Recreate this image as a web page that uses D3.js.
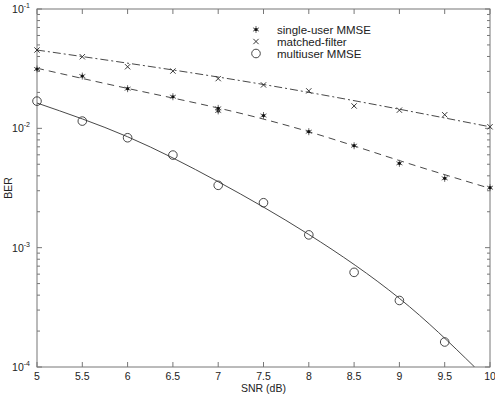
<!DOCTYPE html>
<html>
<head>
<meta charset="utf-8">
<script src="https://cdn.jsdelivr.net/npm/d3@7"></script>
<style>
body { margin: 0; background: #fff; }
text { font-family: "Liberation Sans", Arial, sans-serif; fill: #222; }
</style>
</head>
<body>
<script>
// data
var snr = [5, 5.5, 6, 6.5, 7, 7.5, 8, 8.5, 9, 9.5, 10];
var singleUser = [0.0314, 0.0274, 0.0215, 0.0184, 0.0140, 0.0128, 0.00937, 0.00715, 0.00509, 0.00381, 0.00318];
var singleUser2 = [[7, 0.0147]];
var matched = [0.0453, 0.0398, 0.0328, 0.0302, 0.0261, 0.0231, 0.0206, 0.0154, 0.0142, 0.0130, 0.0103];
var multiSnr = [5, 5.5, 6, 6.5, 7, 7.5, 8, 8.5, 9, 9.5];
var multiuser = [0.0169, 0.0115, 0.00834, 0.00597, 0.00333, 0.00238, 0.00128, 0.000621, 0.000361, 0.000162];

// theory curves
var singleLineX = [5, 6, 7, 8, 9, 10];
var singleLineY = [0.0319, 0.0216, 0.0148, 0.00937, 0.00537, 0.00314];
var matchedLineX = [5, 7.5, 10];
var matchedLineY = [0.0453, 0.0233, 0.0103];
var multiLineX = [5, 6, 7, 8, 9, 9.83];
var multiLineY = [0.0163, 0.0085, 0.00357, 0.00129, 0.000376, 0.0001];

var xTicks = [5, 5.5, 6, 6.5, 7, 7.5, 8, 8.5, 9, 9.5, 10];
var yTicks = [1e-1, 1e-2, 1e-3, 1e-4];
var legendLabels = ["single-user MMSE", "matched-filter", "multiuser MMSE"];

var width = 495, height = 394;
var margin = {left: 37, right: 5, top: 9, bottom: 27};

var svg = d3.select("body").append("svg")
    .attr("width", width)
    .attr("height", height);

var x = d3.scaleLinear().domain([5, 10]).range([margin.left, width - margin.right]);
var y = d3.scaleLog().domain([1e-4, 1e-1]).range([height - margin.bottom, margin.top]);

var axisColor = "#777";
var lineColor = "#333";

// clip so the solid curve stops at the frame
svg.append("clipPath").attr("id", "clip")
  .append("rect")
    .attr("x", x(5)).attr("y", y(1e-1))
    .attr("width", x(10) - x(5)).attr("height", y(1e-4) - y(1e-1));

// box
svg.append("rect")
    .attr("x", x(5)).attr("y", y(1e-1))
    .attr("width", x(10) - x(5)).attr("height", y(1e-4) - y(1e-1))
    .attr("fill", "none").attr("stroke", axisColor);

// x ticks top and bottom, inward
var g = svg.append("g");
xTicks.forEach(function(t) {
    g.append("line").attr("x1", x(t)).attr("x2", x(t))
        .attr("y1", y(1e-4)).attr("y2", y(1e-4) - 5).attr("stroke", axisColor);
    g.append("line").attr("x1", x(t)).attr("x2", x(t))
        .attr("y1", y(1e-1)).attr("y2", y(1e-1) + 5).attr("stroke", axisColor);
    g.append("text").attr("x", x(t)).attr("y", y(1e-4) + 13)
        .attr("text-anchor", "middle").attr("font-size", 10.5)
        .text(t);
});

// y major + minor ticks, both sides
var minor = [];
[1e-4, 1e-3, 1e-2].forEach(function(d) {
    for (var k = 2; k <= 9; k++) minor.push(d * k);
});
minor.forEach(function(t) {
    g.append("line").attr("x1", x(5)).attr("x2", x(5) + 3)
        .attr("y1", y(t)).attr("y2", y(t)).attr("stroke", axisColor);
    g.append("line").attr("x1", x(10)).attr("x2", x(10) - 3)
        .attr("y1", y(t)).attr("y2", y(t)).attr("stroke", axisColor);
});
yTicks.forEach(function(t) {
    g.append("line").attr("x1", x(5)).attr("x2", x(5) + 5)
        .attr("y1", y(t)).attr("y2", y(t)).attr("stroke", axisColor);
    g.append("line").attr("x1", x(10)).attr("x2", x(10) - 5)
        .attr("y1", y(t)).attr("y2", y(t)).attr("stroke", axisColor);
    var lab = g.append("text").attr("x", x(5) - 7).attr("y", y(t) + 4)
        .attr("text-anchor", "end").attr("font-size", 10.5);
    lab.append("tspan").text("10");
    lab.append("tspan").attr("dy", -5).attr("font-size", 7)
        .text(String(Math.round(Math.log10(t))));
});

// axis titles
svg.append("text").attr("x", x(7.5)).attr("y", height - 2)
    .attr("text-anchor", "middle").attr("font-size", 10.5).text("SNR (dB)");
svg.append("text")
    .attr("transform", "translate(12," + ((y(1e-1) + y(1e-4)) / 2) + ") rotate(-90)")
    .attr("text-anchor", "middle").attr("font-size", 10.5).text("BER");

// curves
var line = d3.line().x(function(d) { return x(d[0]); }).y(function(d) { return y(d[1]); })
    .curve(d3.curveNatural);
var plot = svg.append("g").attr("clip-path", "url(#clip)");

plot.append("path").datum(d3.zip(matchedLineX, matchedLineY))
    .attr("d", line).attr("fill", "none").attr("stroke", lineColor)
    .attr("stroke-width", 0.9).attr("stroke-dasharray", "8,3,2,3");
plot.append("path").datum(d3.zip(singleLineX, singleLineY))
    .attr("d", line).attr("fill", "none").attr("stroke", lineColor)
    .attr("stroke-width", 0.9).attr("stroke-dasharray", "7,5");
plot.append("path").datum(d3.zip(multiLineX, multiLineY))
    .attr("d", line).attr("fill", "none").attr("stroke", lineColor)
    .attr("stroke-width", 0.9);

// markers
var star = d3.symbol().type(d3.symbolAsterisk).size(34);
var times = d3.symbol().type(d3.symbolTimes).size(20);

function drawStar(sel, cx, cy) {
    sel.append("path").attr("d", star)
        .attr("transform", "translate(" + cx + "," + cy + ")")
        .attr("fill", "none").attr("stroke", "#666").attr("stroke-width", 1);
    sel.append("circle").attr("cx", cx).attr("cy", cy).attr("r", 1.6).attr("fill", "#111");
}
function drawTimes(sel, cx, cy) {
    sel.append("path").attr("d", times)
        .attr("transform", "translate(" + cx + "," + cy + ")")
        .attr("fill", "none").attr("stroke", "#222").attr("stroke-width", 0.9);
}
function drawCircle(sel, cx, cy) {
    sel.append("circle").attr("cx", cx).attr("cy", cy).attr("r", 4.3)
        .attr("fill", "none").attr("stroke", "#333").attr("stroke-width", 0.9);
}

var marks = svg.append("g");
snr.forEach(function(s, i) {
    drawStar(marks, x(s), y(singleUser[i]));
    drawTimes(marks, x(s), y(matched[i]));
});
singleUser2.forEach(function(d) { drawStar(marks, x(d[0]), y(d[1])); });
multiSnr.forEach(function(s, i) {
    drawCircle(marks, x(s), y(multiuser[i]));
});

// legend
var leg = svg.append("g");
var legY = [29.5, 41.5, 53.5];
drawStar(leg, 256, legY[0]);
drawTimes(leg, 256, legY[1]);
drawCircle(leg, 256, legY[2]);
legendLabels.forEach(function(t, i) {
    leg.append("text").attr("x", 277).attr("y", legY[i] + 4)
        .attr("font-size", 11.5).text(t);
});
</script>
</body>
</html>
